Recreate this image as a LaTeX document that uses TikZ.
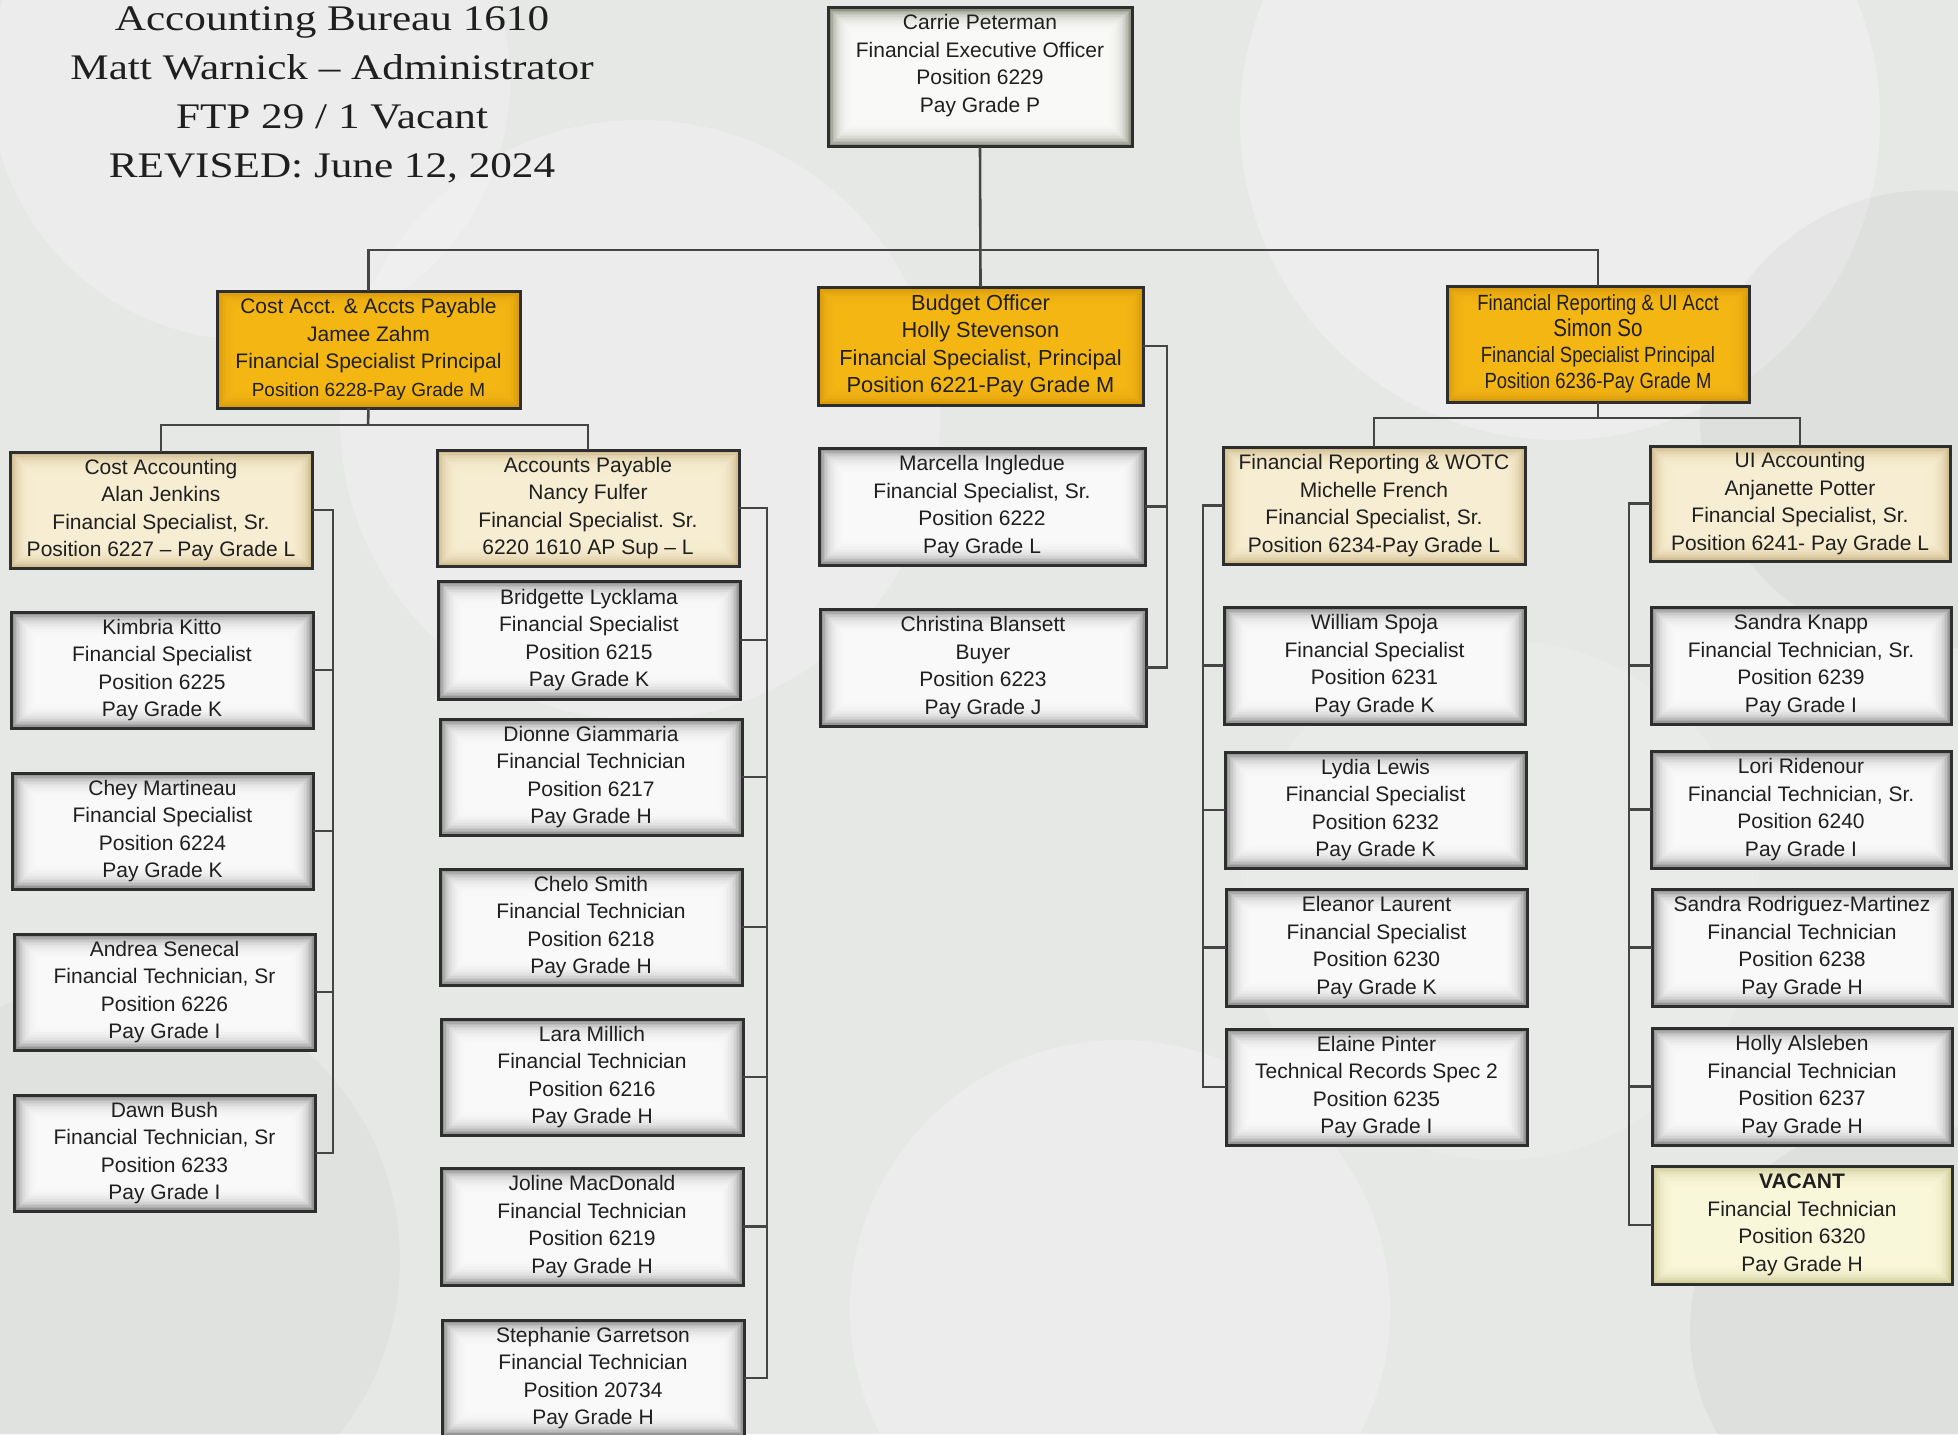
\documentclass[tikz,border=0pt]{standalone}
\usepackage{fontspec}
\setmainfont{Liberation Sans}
\newfontfamily\titlefont[FakeStretch=1.2]{Liberation Serif}
\newfontfamily\condfont[FakeStretch=0.84]{Liberation Sans}

\definecolor{linegray}{HTML}{454545}
\definecolor{edgedark}{HTML}{2E2E2E}
\definecolor{orangeC}{HTML}{F8BA17}
\definecolor{orangeE}{HTML}{D2960A}
\definecolor{creamC}{HTML}{FAF1D6}
\definecolor{creamE}{HTML}{C8B283}
\definecolor{whiteE}{HTML}{7C7C7C}
\definecolor{topE}{HTML}{767B66}
\definecolor{vacC}{HTML}{FDFBDE}
\definecolor{vacE}{HTML}{C9C48F}
\definecolor{bgbase}{HTML}{E6E8E6}

% a framed card: #1 = centre colour, #2 = edge colour (soft inner glow)
\tikzset{
  card/.style 2 args={draw=edgedark, line width=3pt, inner sep=0pt, outer sep=0pt,
    align=center, font=\fontsize{21}{27.5}\selectfont, text=black!88, fill=#2,
    path picture={\foreach \k in {1,...,16}{
      \fill[#1, opacity=0.2]
        ([shift={(\k*1.5,\k*1.5)}]path picture bounding box.north west) rectangle
        ([shift={(-\k*1.5,-\k*1.5)}]path picture bounding box.south east);}}},
  whitecard/.style={card={white}{whiteE}},
  topcard/.style={card={white}{topE}},
  orangecard/.style={card={orangeC}{orangeE}},
  creamcard/.style={card={creamC}{creamE}},
  vacantcard/.style={card={vacC}{vacE}},
  conn/.style={draw=linegray, line width=2.6pt},
  titleline/.style={font=\titlefont\fontsize{36}{48}\selectfont, text=black!88, anchor=base, inner sep=0pt},
}

% card placed by its corners: name, x1, y1, x2, y2, style, text
\newcommand\orgcard[7]{%
  \node[#6, minimum width={#4-#2}, minimum height={#5-#3}] (#1)
    at ({(#2+#4)/2},{(#3+#5)/2}) {#7};}

\begin{document}
\begin{tikzpicture}[x=1pt, y=-1pt]
\useasboundingbox (0,0) rectangle (1958,1434);

% backdrop with soft round highlights
\fill[bgbase] (0,0) rectangle (1958,1434);
\fill[white, opacity=0.25] (1560,120) circle (320);
\fill[white, opacity=0.2] (640,420) circle (300);
\fill[white, opacity=0.2] (250,80) circle (260);
\fill[black, opacity=0.03] (1930,420) circle (230);
\fill[black, opacity=0.025] (120,1260) circle (280);
\fill[white, opacity=0.2] (1120,1310) circle (270);
\fill[black, opacity=0.03] (1900,1330) circle (210);
\fill[white, opacity=0.15] (1500,900) circle (260);

% heading
\node[titleline] (title1) at (332,31) {Accounting Bureau 1610};
\node[titleline] (title2) at (332,80) {Matt Warnick – Administrator};
\node[titleline] (title3) at (332,129) {FTP 29 / 1 Vacant};
\node[titleline] (title4) at (332,178) {REVISED: June 12, 2024};

% executive
\orgcard{ceo}{828}{8}{1132}{147}{topcard}{Carrie Peterman\\Financial Executive Officer\\Position 6229\\Pay Grade P\rule[-28pt]{0pt}{28pt}}

% principals
\orgcard{cost}{217}{291}{520}{408}{orangecard}{Cost Acct. \& Accts Payable\\Jamee Zahm\\Financial Specialist Principal\\{\fontsize{19}{27.5}\selectfont Position 6228-Pay Grade M}}
\orgcard{budget}{818}{287}{1143}{405}{orangecard, font=\fontsize{21.8}{27.5}\selectfont}{Budget Officer\\Holly Stevenson\\Financial Specialist, Principal\\Position 6221-Pay Grade M}
\orgcard{fr}{1447}{286}{1749}{402}{orangecard, font=\condfont\fontsize{22}{26}\selectfont}{Financial Reporting \& UI Acct\\{\fontsize{24.5}{26}\selectfont Simon So}\\Financial Specialist Principal\\Position 6236-Pay Grade M}

% senior leads
\orgcard{costacct}{10}{452}{312}{568}{creamcard}{Cost Accounting\\Alan Jenkins\\Financial Specialist, Sr.\\Position 6227 – Pay Grade L}
\orgcard{ap}{437}{450}{739}{566}{creamcard}{Accounts Payable\\Nancy Fulfer\\Financial Specialist. Sr.\\6220 1610 AP Sup – L}
\orgcard{wotc}{1223}{447}{1525}{564}{creamcard}{Financial Reporting \& WOTC\\Michelle French\\Financial Specialist, Sr.\\Position 6234-Pay Grade L}
\orgcard{ui}{1650}{446}{1950}{561}{creamcard}{UI Accounting\\Anjanette Potter\\Financial Specialist, Sr.\\Position 6241- Pay Grade L}

% cost accounting staff
\orgcard{kimbria}{11}{612}{313}{728}{whitecard}{Kimbria Kitto\\Financial Specialist\\Position 6225\\Pay Grade K}
\orgcard{chey}{12}{773}{313}{889}{whitecard}{Chey Martineau\\Financial Specialist\\Position 6224\\Pay Grade K}
\orgcard{andrea}{14}{934}{315}{1050}{whitecard}{Andrea Senecal\\Financial Technician, Sr\\Position 6226\\Pay Grade I}
\orgcard{dawn}{14}{1095}{315}{1211}{whitecard}{Dawn Bush\\Financial Technician, Sr\\Position 6233\\Pay Grade I}

% accounts payable staff
\orgcard{bridgette}{438}{581}{740}{699}{whitecard}{Bridgette Lycklama\\Financial Specialist\\Position 6215\\Pay Grade K}
\orgcard{dionne}{440}{719}{742}{835}{whitecard}{Dionne Giammaria\\Financial Technician\\Position 6217\\Pay Grade H}
\orgcard{chelo}{440}{869}{742}{985}{whitecard}{Chelo Smith\\Financial Technician\\Position 6218\\Pay Grade H}
\orgcard{lara}{441}{1019}{743}{1135}{whitecard}{Lara Millich\\Financial Technician\\Position 6216\\Pay Grade H}
\orgcard{joline}{441}{1168}{743}{1285}{whitecard}{Joline MacDonald\\Financial Technician\\Position 6219\\Pay Grade H}
\orgcard{stephanie}{442}{1320}{744}{1436}{whitecard}{Stephanie Garretson\\Financial Technician\\Position 20734\\Pay Grade H}

% budget staff
\orgcard{marcella}{819}{448}{1145}{565}{whitecard}{Marcella Ingledue\\Financial Specialist, Sr.\\Position 6222\\Pay Grade L}
\orgcard{christina}{820}{609}{1146}{726}{whitecard}{Christina Blansett\\Buyer\\Position 6223\\Pay Grade J}

% reporting & WOTC staff
\orgcard{william}{1224}{607}{1525}{724}{whitecard}{William Spoja\\Financial Specialist\\Position 6231\\Pay Grade K}
\orgcard{lydia}{1225}{752}{1526}{868}{whitecard}{Lydia Lewis\\Financial Specialist\\Position 6232\\Pay Grade K}
\orgcard{eleanor}{1226}{889}{1527}{1006}{whitecard}{Eleanor Laurent\\Financial Specialist\\Position 6230\\Pay Grade K}
\orgcard{elaine}{1226}{1029}{1527}{1145}{whitecard}{Elaine Pinter\\Technical Records Spec 2\\Position 6235\\Pay Grade I}

% UI accounting staff
\orgcard{knapp}{1651}{607}{1951}{724}{whitecard}{Sandra Knapp\\Financial Technician, Sr.\\Position 6239\\Pay Grade I}
\orgcard{lori}{1651}{751}{1951}{868}{whitecard}{Lori Ridenour\\Financial Technician, Sr.\\Position 6240\\Pay Grade I}
\orgcard{srm}{1652}{889}{1952}{1006}{whitecard}{Sandra Rodriguez-Martinez\\Financial Technician\\Position 6238\\Pay Grade H}
\orgcard{holly}{1652}{1028}{1952}{1145}{whitecard}{Holly Alsleben\\Financial Technician\\Position 6237\\Pay Grade H}
\orgcard{vacant}{1652}{1166}{1952}{1284}{vacantcard}{\textbf{VACANT}\\Financial Technician\\Position 6320\\Pay Grade H}

% bus lines
\coordinate (busTop) at (980,250);
\coordinate (busCost) at (368,425);
\coordinate (busFR) at (1598,418);
\draw[conn] (ceo.south) -- (budget.north);
\draw[conn] (cost.north) |- (busTop) -| (fr.north);
\draw[conn] (cost.south) -- (busCost);
\draw[conn] (costacct.north) |- (busCost) -| (ap.north);
\draw[conn] (fr.south) -- (busFR);
\draw[conn] (wotc.north) |- (busFR) -| (ui.north);

% side rails
\coordinate (railA) at (333,0);
\coordinate (railB) at (767,0);
\coordinate (railC) at (1167,0);
\coordinate (railD) at (1203,0);
\coordinate (railE) at (1629,0);

\draw[conn] (costacct.east) -- (costacct.east -| railA) -- (dawn.east -| railA) -- (dawn.east);
\foreach \n in {kimbria,chey,andrea} \draw[conn] (\n.east) -- (\n.east -| railA);

\draw[conn] (ap.east) -- (ap.east -| railB) -- (stephanie.east -| railB) -- (stephanie.east);
\foreach \n in {bridgette,dionne,chelo,lara,joline} \draw[conn] (\n.east) -- (\n.east -| railB);

\draw[conn] (budget.east) -- (budget.east -| railC) -- (christina.east -| railC) -- (christina.east);
\draw[conn] (marcella.east) -- (marcella.east -| railC);

\draw[conn] (wotc.west) -- (wotc.west -| railD) -- (elaine.west -| railD) -- (elaine.west);
\foreach \n in {william,lydia,eleanor} \draw[conn] (\n.west) -- (\n.west -| railD);

\draw[conn] (ui.west) -- (ui.west -| railE) -- (vacant.west -| railE) -- (vacant.west);
\foreach \n in {knapp,lori,srm,holly} \draw[conn] (\n.west) -- (\n.west -| railE);
\end{tikzpicture}
\end{document}
